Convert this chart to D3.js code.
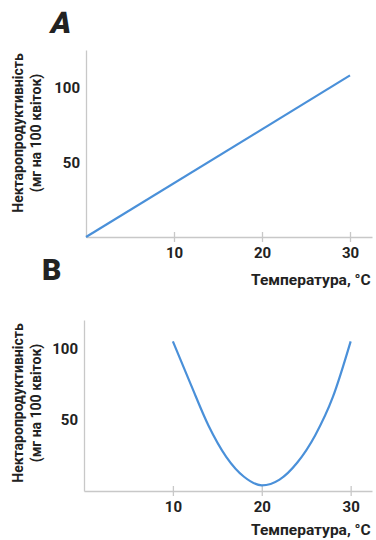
<!DOCTYPE html>
<html lang="uk">
<head>
    <meta charset="UTF-8">
    <title>Нектаропродуктивність</title>
    <script src="https://d3js.org/d3.v7.min.js"></script>
    <style>
        body {
            margin: 0;
            padding: 0;
            background: #fff;
            font-family: Roboto, "Open Sans", Arial, sans-serif;
        }
        svg { display: block; }
        .tick text {
            font-family: Roboto, Arial, sans-serif;
            font-weight: 700;
            font-size: 15px;
            fill: #222;
        }
        .axis path, .axis line { stroke: #c8c8c8; stroke-width: 1.3; }
        .curve { fill: none; stroke: #4a90d9; stroke-width: 2.2; }
        .lbl { font-weight: 700; fill: #222; }
    </style>
</head>
<body>
<svg width="376" height="540"></svg>
<script>
    // chart A: linear growth of nectar with temperature
    const tempA = [0, 30];
    const nectarA = [0, 108];
    // chart B: U-shaped curve
    const tempB = [10, 12, 14, 16, 18, 20, 22, 24, 26, 28, 30];
    const nectarB = [105, 75, 46, 24, 10, 4, 8, 20, 39, 66, 105];

    const xTicks = [10, 20, 30];
    const yTicks = [50, 100];
    const yTitle = ["Нектаропродуктивність", "(мг на 100 квіток)"];
    const xTitle = "Температура, °C";

    const svg = d3.select("svg");

    const panels = [
        { letter: "A", temps: tempA, vals: nectarA, x: [86, 372], xMax: 32.5, y: [237, 50], yMax: 125,
          letterPos: [49, 33], titleY: 133, xTitleY: 285 },
        { letter: "B", temps: tempB, vals: nectarB, x: [84, 372], xMax: 32.4, y: [491, 320], yMax: 120,
          letterPos: [42, 280], titleY: 403, xTitleY: 535 }
    ];

    panels.forEach(p => {
        const x = d3.scaleLinear().domain([0, p.xMax]).range(p.x);
        const y = d3.scaleLinear().domain([0, p.yMax]).range(p.y);
        const g = svg.append("g");

        // x axis
        const xa = g.append("g")
            .attr("class", "axis")
            .attr("transform", `translate(0,${p.y[0]})`)
            .call(d3.axisBottom(x).tickValues(xTicks).tickSize(5).tickSizeOuter(0).tickPadding(5).tickFormat(d3.format("d")));
        xa.selectAll(".tick line").attr("y1", -5);

        // y axis, no tick marks
        g.append("g")
            .attr("class", "axis")
            .attr("transform", `translate(${p.x[0]},0)`)
            .call(d3.axisLeft(y).tickValues(yTicks).tickSize(0).tickPadding(6).tickFormat(d3.format("d")));

        // data line
        const pts = p.temps.map((t, i) => [t, p.vals[i]]);
        g.append("path")
            .datum(pts)
            .attr("class", "curve")
            .attr("d", d3.line()
                .x(d => x(d[0]))
                .y(d => y(d[1]))
                .curve(d3.curveMonotoneX));

        // y title
        const yt = g.append("text")
            .attr("class", "lbl")
            .attr("transform", `translate(18,${p.titleY}) rotate(-90)`)
            .attr("text-anchor", "middle")
            .style("font-size", "14px");
        yt.append("tspan").attr("x", 0).attr("dy", "0.35em").text(yTitle[0]);
        yt.append("tspan").attr("x", 0).attr("dy", "1.3em").text(yTitle[1]);

        // x title
        g.append("text")
            .attr("class", "lbl")
            .attr("x", 251)
            .attr("y", p.xTitleY)
            .style("font-size", "15.5px")
            .text(xTitle);

        // panel letter
        g.append("text")
            .attr("x", p.letterPos[0])
            .attr("y", p.letterPos[1])
            .attr("transform", p.letter === "A" ? `skewX(-12) translate(${p.letterPos[1] * 0.21},0)` : null)
            .style("font-size", "30px")
            .style("font-weight", 900)
            .style("font-family", "Roboto, Lato, Arial, sans-serif")
            .style("fill", "#222")
            .text(p.letter);
    });
</script>
</body>
</html>
